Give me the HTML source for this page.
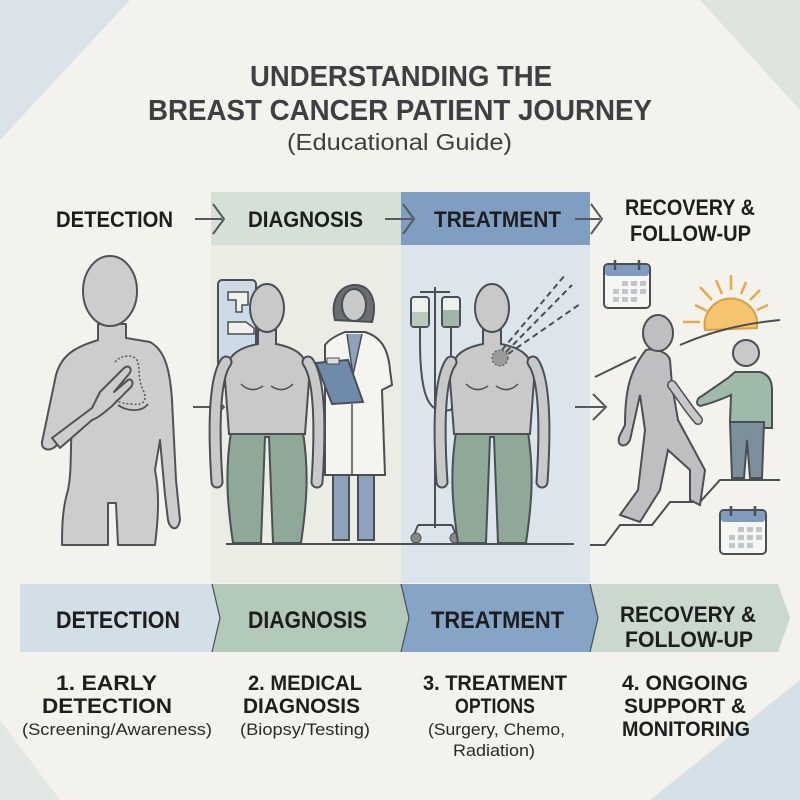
<!DOCTYPE html>
<html><head><meta charset="utf-8"><style>
html,body{margin:0;padding:0;background:#f3f2ec}
svg{display:block}
text{font-family:"Liberation Sans",sans-serif}
</style></head><body>
<svg width="800" height="800" viewBox="0 0 800 800">
<defs>
<g id="body">
  <path d="M-36,150 C-42,190 -40,220 -34,261 L-6,261 L-2,155 L2,155 L6,261 L34,261 C40,220 42,190 36,150 Z" fill="#8fa897" stroke="#4a4f55" stroke-width="2"/>
  <path d="M-9,48 L-9,62 C-30,66 -42,74 -42,98 L-38,152 L38,152 L42,98 C42,74 30,66 9,62 L9,48 Z" fill="#c9c9c9" stroke="#4a4f55" stroke-width="2"/>
  <path d="M-41,80 C-52,95 -54,140 -50,200" fill="none" stroke="#4a4f55" stroke-width="13" stroke-linecap="round"/>
  <path d="M-41,80 C-52,95 -54,140 -50,200" fill="none" stroke="#c9c9c9" stroke-width="9" stroke-linecap="round"/>
  <path d="M41,80 C52,95 54,140 50,200" fill="none" stroke="#4a4f55" stroke-width="13" stroke-linecap="round"/>
  <path d="M41,80 C52,95 54,140 50,200" fill="none" stroke="#c9c9c9" stroke-width="9" stroke-linecap="round"/>
  <ellipse cx="0" cy="26" rx="17" ry="24" fill="#c9c9c9" stroke="#4a4f55" stroke-width="2"/>
  <path d="M-26,102 Q-16,112 -4,104 M4,104 Q16,112 26,102" fill="none" stroke="#4a4f55" stroke-width="1.5"/>
</g>
<g id="cal">
  <rect x="0" y="0" width="46" height="44" rx="4" fill="#f6f6f2" stroke="#4a4f55" stroke-width="2"/>
  <rect x="1" y="1" width="44" height="11" rx="3" fill="#7f9bbd"/>
  <line x1="11" y1="-4" x2="11" y2="6" stroke="#4a4f55" stroke-width="2.5"/>
  <line x1="35" y1="-4" x2="35" y2="6" stroke="#4a4f55" stroke-width="2.5"/>
  <g fill="#bfc6cc"><rect x="18" y="17" width="6" height="5"/><rect x="27" y="17" width="6" height="5"/><rect x="36" y="17" width="6" height="5"/>
  <rect x="9" y="25" width="6" height="5"/><rect x="18" y="25" width="6" height="5"/><rect x="27" y="25" width="6" height="5"/><rect x="36" y="25" width="6" height="5"/>
  <rect x="9" y="33" width="6" height="5"/><rect x="18" y="33" width="6" height="5"/><rect x="27" y="33" width="6" height="5"/></g>
</g>
</defs>
<rect width="800" height="800" fill="#f3f2ec"/>
<polygon points="0,0 130,0 0,140" fill="#dbe3ea"/>
<polygon points="700,0 800,0 800,110" fill="#dde5de"/>
<polygon points="800,680 800,800 650,800" fill="#d6e0e8"/>
<polygon points="0,720 0,800 60,800" fill="#e4e8e4"/>
<g font-weight="bold" fill="#3d3f42" font-size="29" lengthAdjust="spacingAndGlyphs">
<text x="250" y="86" textLength="302" lengthAdjust="spacingAndGlyphs">UNDERSTANDING THE</text>
<text x="148" y="120" textLength="504" lengthAdjust="spacingAndGlyphs">BREAST CANCER PATIENT JOURNEY</text>
</g>
<text x="287" y="150" font-size="23" fill="#3d3f42" textLength="225" lengthAdjust="spacingAndGlyphs">(Educational Guide)</text>
<!-- columns -->
<rect x="211" y="245" width="190" height="338" fill="#ebede5"/>
<rect x="401" y="245" width="189" height="338" fill="#dce4ec"/>
<rect x="211" y="192" width="190" height="53" fill="#d5e0d7"/>
<rect x="401" y="192" width="189" height="53" fill="#7f9ec2"/>
<g font-size="22" font-weight="bold" fill="#1e1e1e">
<text x="56" y="227" textLength="117" lengthAdjust="spacingAndGlyphs">DETECTION</text>
<text x="248" y="227" textLength="115" lengthAdjust="spacingAndGlyphs">DIAGNOSIS</text>
<text x="434" y="227" textLength="127" lengthAdjust="spacingAndGlyphs">TREATMENT</text>
<text x="625" y="215" textLength="130" lengthAdjust="spacingAndGlyphs">RECOVERY &amp;</text>
<text x="630" y="241" textLength="121" lengthAdjust="spacingAndGlyphs">FOLLOW-UP</text>
</g>
<g fill="none" stroke="#55595e" stroke-width="2">
<path d="M195,219 H222 M213,204 L224,219 L213,234"/>
<path d="M385,219 H412 M403,204 L414,219 L403,234"/>
<path d="M575,219 H600 M591,204 L602,219 L591,234"/>
<path d="M193,407 H222 M211,394 L224,407 L211,420"/>
<path d="M575,407 H604 M593,394 L606,407 L593,420"/>
</g>
<!-- detection figure -->
<g stroke="#4f5357" stroke-width="2" fill="#cdcdcd" stroke-linejoin="round">
<path d="M98,324 L98,340 C80,346 62,352 56,375 L42,442 C41,450 50,452 56,446 L72,425 C70,450 72,470 68,490 C62,510 62,530 62,545 L108,545 L108,503 L116,503 L118,545 L155,545 C158,520 160,495 155,470 L160,440 L165,495 L168,520 C170,530 178,532 180,520 L176,480 L172,400 C170,370 165,350 150,342 L126,338 L126,324 Z"/>
<ellipse cx="110" cy="291" rx="27" ry="35"/>
<path d="M52,438 L92,408 L100,392 L124,368 C129,364 133,369 129,374 L114,392 L128,380 C132,378 134,383 131,387 L112,406 C105,412 98,418 92,420 L60,448 Z"/>
</g>
<path d="M118,405 C128,412 142,412 148,404" fill="none" stroke="#4f5357" stroke-width="1.8"/>
<path d="M115,362 C122,354 135,354 138,362 C140,372 138,380 143,390 C148,400 144,406 132,404 C124,404 118,402 116,400" fill="none" stroke="#555" stroke-width="1.5" stroke-dasharray="2,2"/>
<!-- diagnosis -->
<rect x="218" y="280" width="38" height="87" rx="4" fill="#cddbe6" stroke="#4a4f55" stroke-width="2"/>
<path d="M228,292 H248 V305 H242 V312 H236 V300 H228 Z M228,322 H246 L254,328 V334 H228 Z" fill="#f0f0ec" stroke="#4a4f55" stroke-width="1.5"/>
<use href="#body" x="267" y="282"/>
<!-- doctor -->
<path d="M335,320 C330,300 340,285 355,285 C370,285 378,300 372,322 Z" fill="#6a6e73" stroke="#4a4f55" stroke-width="2"/>
<ellipse cx="354" cy="305" rx="12" ry="16" fill="#c9c9c9" stroke="#4a4f55" stroke-width="2"/>
<rect x="333" y="470" width="16" height="70" fill="#8ea3bb" stroke="#4a4f55" stroke-width="2"/>
<rect x="358" y="470" width="16" height="70" fill="#8ea3bb" stroke="#4a4f55" stroke-width="2"/>
<path d="M325,345 C330,338 340,334 345,332 L365,332 C378,336 388,345 390,370 L392,385 L382,390 L385,475 L325,475 Z" fill="#f4f4f0" stroke="#4a4f55" stroke-width="2"/>
<path d="M347,334 L353,375 L362,334" fill="#8ea3bb" stroke="#4a4f55" stroke-width="1.5"/>
<polygon points="316,363 348,360 363,402 332,404" fill="#6f8aab" stroke="#4a4f55" stroke-width="2"/>
<rect x="327" y="358" width="12" height="6" fill="#ddd" stroke="#4a4f55" stroke-width="1"/>
<line x1="352" y1="404" x2="352" y2="475" stroke="#4a4f55" stroke-width="1.5"/>
<!-- IV -->
<g stroke="#4a4f55" stroke-width="2" fill="none">
<line x1="435" y1="287" x2="435" y2="528"/>
<path d="M420,292 H450"/>
<path d="M418,525 H452 M418,525 L414,535 M452,525 L456,535"/>
<path d="M420,326 V340 C420,400 430,415 450,410 C460,405 460,390 460,385"/>
<path d="M451,326 V380"/>
</g>
<circle cx="416" cy="538" r="5" fill="#888" stroke="#4a4f55"/>
<circle cx="455" cy="538" r="5" fill="#888" stroke="#4a4f55"/>
<rect x="411" y="297" width="18" height="30" rx="3" fill="#eef0ec" stroke="#4a4f55" stroke-width="2"/>
<rect x="412" y="312" width="16" height="14" fill="#b8c9bd"/>
<rect x="442" y="297" width="18" height="30" rx="3" fill="#eef0ec" stroke="#4a4f55" stroke-width="2"/>
<rect x="443" y="310" width="16" height="16" fill="#9fb6a8"/>
<use href="#body" x="492" y="282"/>
<g stroke="#4a4f55" stroke-width="2" stroke-dasharray="6,4"><line x1="502" y1="350" x2="565" y2="275"/><line x1="506" y1="352" x2="572" y2="285"/><line x1="508" y1="354" x2="580" y2="304"/></g>
<circle cx="500" cy="358" r="8" fill="#9a9a9a" stroke="#4a4f55" stroke-dasharray="2,2"/>
<line x1="226" y1="544" x2="574" y2="544" stroke="#4a4f55" stroke-width="2"/>
<!-- recovery -->
<use href="#cal" x="604" y="264"/>
<use href="#cal" x="720" y="510"/>
<g stroke="#e8a94a" stroke-width="2.5"><line x1="683" y1="322" x2="700" y2="322"/><line x1="695" y1="305" x2="707" y2="311"/><line x1="700" y1="287" x2="712" y2="300"/><line x1="716" y1="280" x2="722" y2="294"/><line x1="731" y1="275" x2="731" y2="290"/><line x1="746" y1="282" x2="741" y2="294"/><line x1="760" y1="290" x2="750" y2="300"/><line x1="768" y1="305" x2="757" y2="310"/></g>
<path d="M705,330 A26,26 0 0 1 757,320 L757,328 Z" fill="#f5c46f" stroke="#d9a040" stroke-width="2"/>
<path d="M680,345 C710,332 740,324 780,320" fill="none" stroke="#4a4f55" stroke-width="2"/>
<path d="M595,377 L636,357" fill="none" stroke="#4a4f55" stroke-width="2"/>
<path d="M590,545 H605 L620,525 H652 L670,502 H700 L720,480 H780" fill="none" stroke="#4a4f55" stroke-width="2"/>
<!-- walker -->
<path d="M646,350 C630,370 625,390 625,425 L620,435 C615,445 625,450 630,440 L640,395 L645,430 L638,490 L620,515 L640,522 L660,490 L668,450 L690,470 L690,500 L700,505 L705,470 L678,420 L672,385 L670,360 C668,352 655,348 646,350 Z" fill="#bfbfc2" stroke="#4a4f55" stroke-width="2"/>
<path d="M672,385 L690,410 L698,420" fill="none" stroke="#4a4f55" stroke-width="10" stroke-linecap="round"/>
<path d="M672,385 L690,410 L698,420" fill="none" stroke="#c8c8ca" stroke-width="7" stroke-linecap="round"/>
<ellipse cx="658" cy="333" rx="15" ry="18" fill="#bfbfc2" stroke="#4a4f55" stroke-width="2"/>
<!-- child -->
<circle cx="746" cy="353" r="13" fill="#c9c9c9" stroke="#4a4f55" stroke-width="2"/>
<path d="M730,422 L732,478 L744,478 L747,440 L750,478 L762,478 L764,422 Z" fill="#7d8f9b" stroke="#4a4f55" stroke-width="2"/>
<path d="M735,372 H760 C768,374 772,380 772,390 L772,428 H764 V422 H730 L731,395 C720,400 708,404 700,406 C695,404 697,398 702,396 L728,378 Z" fill="#9fbaa8" stroke="#4a4f55" stroke-width="2"/>
<!-- bottom band -->
<polygon points="20,584 212,584 220,618 212,652 20,652" fill="#d3dfe7"/>
<polygon points="212,584 401,584 409,618 401,652 212,652 220,618" fill="#b3c9b9"/>
<polygon points="401,584 590,584 598,618 590,652 401,652 409,618" fill="#86a4c5"/>
<polygon points="590,584 778,584 790,618 778,652 590,652 598,618" fill="#cad8ce"/>
<g stroke="#4a4f55" stroke-width="1.2" fill="none"><path d="M212,584 L220,618 L212,652"/><path d="M401,584 L409,618 L401,652"/><path d="M590,584 L598,618 L590,652"/></g>
<g font-size="24" font-weight="bold" fill="#1e1e1e">
<text x="56" y="628" textLength="124" lengthAdjust="spacingAndGlyphs">DETECTION</text>
<text x="248" y="628" textLength="119" lengthAdjust="spacingAndGlyphs">DIAGNOSIS</text>
<text x="431" y="628" textLength="133" lengthAdjust="spacingAndGlyphs">TREATMENT</text>
<text x="620" y="622" font-size="22" textLength="136" lengthAdjust="spacingAndGlyphs">RECOVERY &amp;</text>
<text x="625" y="647" font-size="22" textLength="128" lengthAdjust="spacingAndGlyphs">FOLLOW-UP</text>
</g>
<g font-size="21" font-weight="bold" fill="#1e1e1e">
<text x="56" y="690" textLength="101" lengthAdjust="spacingAndGlyphs">1. EARLY</text>
<text x="42" y="713" textLength="130" lengthAdjust="spacingAndGlyphs">DETECTION</text>
<text x="248" y="690" textLength="114" lengthAdjust="spacingAndGlyphs">2. MEDICAL</text>
<text x="243" y="713" textLength="117" lengthAdjust="spacingAndGlyphs">DIAGNOSIS</text>
<text x="423" y="690" textLength="144" lengthAdjust="spacingAndGlyphs">3. TREATMENT</text>
<text x="455" y="713" textLength="80" lengthAdjust="spacingAndGlyphs">OPTIONS</text>
<text x="622" y="690" textLength="126" lengthAdjust="spacingAndGlyphs">4. ONGOING</text>
<text x="624" y="713" textLength="122" lengthAdjust="spacingAndGlyphs">SUPPORT &amp;</text>
<text x="622" y="736" textLength="128" lengthAdjust="spacingAndGlyphs">MONITORING</text>
</g>
<g font-size="17" fill="#2a2a2a">
<text x="22" y="735" textLength="190" lengthAdjust="spacingAndGlyphs">(Screening/Awareness)</text>
<text x="240" y="735" textLength="130" lengthAdjust="spacingAndGlyphs">(Biopsy/Testing)</text>
<text x="428" y="735" textLength="137" lengthAdjust="spacingAndGlyphs">(Surgery, Chemo,</text>
<text x="453" y="756" textLength="82" lengthAdjust="spacingAndGlyphs">Radiation)</text>
</g>
</svg>
</body></html>
